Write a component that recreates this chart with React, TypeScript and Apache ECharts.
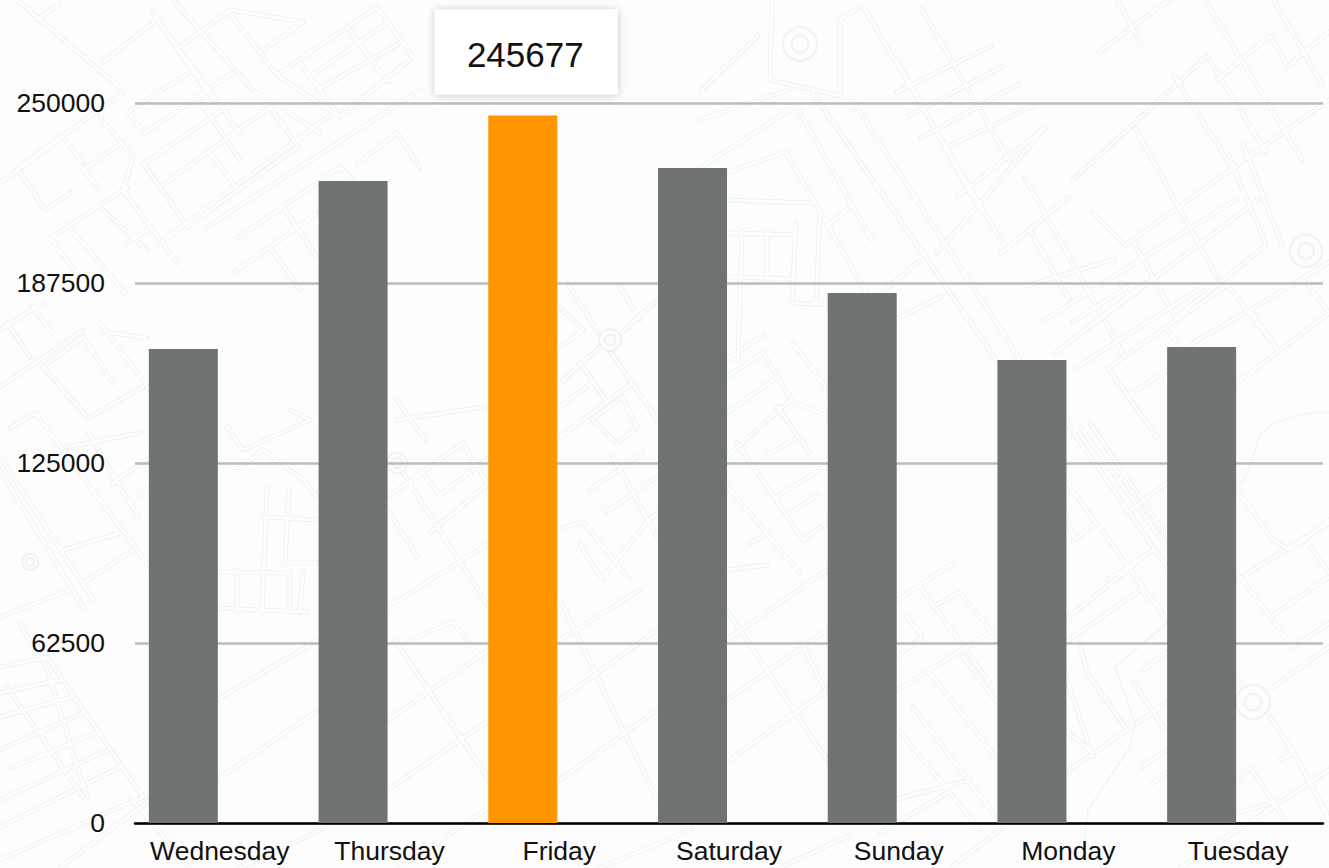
import React, { useEffect, useRef } from "react";
import * as echarts from "echarts";

const categories = ["Wednesday", "Thursday", "Friday", "Saturday", "Sunday", "Monday", "Tuesday"];
const dailyValues = [164600, 222900, 245677, 227400, 184000, 160800, 165300];
const highlighted = "Friday";
const yMax = 250000;
const yStep = 62500;

// Decorative street-map backdrop (not data)
const streets: number[][][] = [
  [[864,8],[1001,240]],[[921,8],[1009,160]],[[897,60],[981,213]],[[897,92],[991,46]],[[909,116],[1003,66]],[[921,138],[1019,84]],[[945,148],[1033,106]],[[957,197],[1045,128]],
  [[1099,52],[1169,0]],[[1117,0],[1141,44]],[[1073,180],[1207,56],[1266,152]],[[1173,74],[1237,176]],[[1217,80],[1270,36],[1288,66],[1329,32]],[[1205,0],[1302,160]],[[1274,0],[1322,84]],[[1243,144],[1282,245]],
  [[1093,213],[1125,245],[1329,100]],[[1133,241],[1177,321]],[[1135,128],[1217,277]],[[1229,156],[1266,245],[1177,317]],[[1001,253],[1069,197]],[[1023,287],[1115,259]],[[1029,229],[1069,299]],[[1025,178],[1125,357]],[[1043,321],[1237,199]],[[1055,353],[1258,200]],
  [[812,92],[997,361]],[[852,100],[1021,361]],[[772,0],[770,80],[840,96],[840,20],[860,6]],[[700,92],[758,36]],[[700,120],[788,90]],[[700,168],[796,106],[872,240]],[[716,176],[786,152],[872,303]],
  [[796,221],[792,303],[836,305]],[[728,200],[816,203]],[[728,233],[796,235]],[[728,277],[794,279]],[[742,231],[738,361]],[[767,231],[767,281]],[[820,210],[816,305]],[[828,225],[852,205]],[[872,301],[919,261]],[[937,253],[1045,128]],[[885,325],[941,297]],
  [[37,20],[60,3]],[[17,0],[120,88]],[[103,62],[157,20],[213,100]],[[153,13],[240,133]],[[173,0],[253,90],[320,133]],[[180,47],[230,10],[303,22],[260,53]],[[227,10],[277,75],[340,117]],[[277,75],[377,7]],[[298,60],[340,117]],[[347,27],[388,82]],[[377,7],[413,57],[340,117]],[[310,77],[388,22]],[[317,90],[402,42]],
  [[128,112],[190,72]],[[128,112],[145,133],[233,73]],[[145,163],[237,100]],[[160,187],[270,107],[298,147],[187,227]],[[143,163],[188,227]],[[208,150],[238,190]],[[197,97],[240,160]],[[358,163],[397,133],[420,167]],
  [[0,183],[63,137],[83,163]],[[17,168],[123,93]],[[17,168],[45,210],[70,193]],[[83,170],[123,142]],[[83,170],[98,187]],[[100,117],[133,157],[123,190],[177,263]],[[50,238],[127,188]],[[50,238],[87,287]],[[70,228],[125,293]],[[100,207],[147,250]],[[127,243],[152,227]],[[160,243],[333,113]],[[207,227],[420,90]],[[238,238],[340,167],[353,180]],[[235,272],[317,213]],[[283,207],[317,257]],[[270,247],[300,290]],
  [[0,330],[43,303]],[[7,323],[30,357]],[[33,307],[52,333]],[[0,387],[83,330]],[[43,367],[83,337],[113,383]],[[43,367],[88,418],[143,387]],[[100,323],[150,390]],[[107,332],[147,338]],[[10,428],[35,413],[150,567]],[[0,457],[93,600]],[[0,470],[85,610]],[[67,447],[140,433]],[[113,483],[150,457]],[[88,432],[138,517]],[[128,503],[150,487]],[[63,550],[120,533]],[[83,583],[133,550]],[[0,617],[70,590]],[[20,623],[40,660]],
  [[0,667],[47,657]],[[0,693],[60,680]],[[43,657],[87,797]],[[7,687],[83,797]],[[0,717],[72,697]],[[0,750],[83,713]],[[13,767],[97,733]],[[0,800],[108,750]],[[0,827],[120,767]],[[0,860],[143,797]],[[47,657],[143,797]],[[60,868],[150,800]],[[130,797],[190,868]],
  [[227,427],[243,450],[310,420],[290,410]],[[263,450],[303,480],[317,497]],[[240,468],[263,450]],[[267,488],[262,613]],[[289,490],[285,563],[317,563]],[[263,517],[317,520]],[[217,572],[290,573],[290,610]],[[217,608],[307,612]],[[237,570],[237,613]],[[303,573],[300,613]],
  [[397,400],[425,440]],[[388,497],[463,443]],[[423,473],[440,495],[490,457]],[[463,443],[487,483]],[[403,473],[463,567],[489,607]],[[388,510],[417,557]],[[430,533],[489,483]],[[388,607],[489,543]],[[410,640],[453,622],[483,660]],[[397,420],[483,407]],
  [[560,347],[583,330],[560,308]],[[567,283],[603,340],[657,420]],[[617,337],[657,300]],[[560,383],[600,347]],[[580,363],[607,402]],[[560,407],[593,382]],[[560,437],[632,383]],[[592,420],[622,397],[637,427],[617,443],[603,430],[592,420]],[[620,287],[640,320]],[[612,455],[657,537]],[[590,490],[642,453]],[[607,512],[657,477]],[[563,528],[583,522],[630,580]],[[580,545],[603,580]],[[603,577],[643,527],[657,513]],
  [[727,360],[763,335]],[[727,413],[777,377]],[[727,377],[763,353],[790,397]],[[727,457],[790,400],[830,417]],[[777,407],[810,453]],[[768,455],[797,437]],[[793,343],[830,393]],[[737,443],[803,540],[830,520]],[[775,498],[830,463]],[[787,515],[817,495]],[[728,487],[800,573]],[[750,543],[768,533]],[[727,570],[767,565]],
  [[1073,322],[1127,287]],[[1082,332],[1145,283]],[[1120,283],[1130,297]],[[1077,367],[1203,287]],[[1108,368],[1227,285],[1278,350]],[[1108,368],[1157,437]],[[1127,397],[1167,370]],[[1167,330],[1180,347]],[[1193,343],[1267,300],[1329,262]],[[1237,383],[1329,313]],[[1250,310],[1278,350]],[[1307,283],[1329,313]],
  [[1065,420],[1167,567]],[[1080,427],[1167,547]],[[1090,423],[1167,537]],[[1065,513],[1075,540],[1095,523]],[[1065,480],[1167,620]],[[1127,513],[1167,483]],[[1115,490],[1123,473]],[[1237,490],[1273,540],[1290,550],[1329,520]],[[1303,537],[1329,573]],[[1237,580],[1329,523]],[[1107,580],[1153,550]],
  [[1237,573],[1293,647],[1329,623]],[[1270,617],[1329,577]],[[1273,687],[1329,647]],[[1270,717],[1300,763],[1329,820]],[[1237,677],[1253,702]],[[1280,760],[1293,753],[1327,813]],[[1240,780],[1250,767],[1283,817]],[[1237,813],[1273,803]],[[1065,643],[1140,590]],[[1065,620],[1140,560]],[[1140,587],[1148,602]],[[1065,773],[1166,703]],[[1080,643],[1087,673],[1127,730]],[[1065,673],[1093,757]],[[1065,730],[1093,753]],[[1133,682],[1163,727]],[[1142,767],[1166,750]],[[1153,783],[1166,773]],[[1143,670],[1166,653]],
  [[893,603],[953,563]],[[920,587],[990,683]],[[933,607],[960,592],[998,640]],[[907,617],[922,637],[893,660]],[[893,693],[998,627]],[[930,673],[998,760]],[[963,657],[998,703]],[[893,800],[970,780]],[[893,723],[980,830]],[[913,707],[998,820]],[[880,833],[947,793]],[[950,868],[1000,830]],
  [[217,700],[318,640]],[[217,780],[318,710]],[[395,640],[489,780]],[[388,720],[489,650]],[[388,790],[489,720]],[[560,640],[640,590]],[[560,700],[657,630]],[[560,600],[657,800]],[[727,640],[827,570]],[[727,700],[827,630]],[[730,760],[827,690]],[[800,640],[825,690]],[[560,780],[657,710]],[[727,610],[827,760]],[[400,868],[500,800]],[[600,868],[690,830]],[[780,868],[850,835]],[[240,868],[320,830]],[[1180,868],[1329,770]],
];
const shoreline: number[][] = [[1329,413],[1310,413],[1273,423],[1260,435],[1252,460],[1243,482],[1237,485]];
const shoreline2: number[][] = [[1167,623],[1115,667],[1135,723],[1130,747],[1088,810],[1083,849]];
const roundabouts: number[][] = [[800,44,17],[1306,251,16],[1253,702,17],[610,340,11],[397,463,10],[30,562,8]];

const BG = "#fdfdfd";
const ROAD = "#f0f3f2";

function backdrop() {
  const els: any[] = [];
  const line = (pts: number[][], stroke: string, lineWidth: number, z: number) => ({
    type: "polyline", silent: true, z, shape: { points: pts },
    style: { stroke, lineWidth, fill: "none", lineCap: "round", lineJoin: "round" },
  });
  streets.forEach((p) => els.push(line(p, ROAD, 5, -3)));
  streets.forEach((p) => els.push(line(p, BG, 3, -2)));
  roundabouts.forEach(([x, y, r]) => {
    els.push({ type: "circle", silent: true, z: -1, shape: { cx: x, cy: y, r }, style: { stroke: ROAD, lineWidth: 2, fill: BG } });
    els.push({ type: "circle", silent: true, z: -1, shape: { cx: x, cy: y, r: r * 0.5 }, style: { stroke: ROAD, lineWidth: 2, fill: BG } });
  });
  els.push(line(shoreline, ROAD, 1.2, -1));
  els.push(line(shoreline2, ROAD, 1.2, -1));
  return els;
}

export default function App() {
  const ref = useRef<HTMLDivElement>(null);
  useEffect(() => {
    document.body.style.margin = "0";
    const chart = echarts.init(ref.current!, undefined, { renderer: "svg" });
    const font = "'Liberation Sans', Arial, sans-serif";
    chart.setOption({
      animation: false,
      backgroundColor: BG,
      graphic: { elements: backdrop() },
      grid: { left: 135, right: 6, top: 103, bottom: 45, containLabel: false },
      xAxis: {
        type: "category",
        data: categories,
        axisLine: { lineStyle: { color: "#000", width: 2.5 } },
        axisTick: { show: false },
        axisLabel: { color: "#111", fontSize: 26.5, fontFamily: font, margin: 14, interval: 0 },
      },
      yAxis: {
        type: "value",
        min: 0,
        max: yMax,
        interval: yStep,
        axisLine: { show: false },
        axisTick: { show: false },
        axisLabel: { color: "#111", fontSize: 26.5, fontFamily: font, margin: 30, formatter: (v: number) => String(v) },
        splitLine: { lineStyle: { color: "#bbbbbb", width: 2.5 } },
      },
      series: [
        {
          type: "bar",
          name: "Visits",
          barWidth: 69,
          barGap: "5.8%",
          itemStyle: { color: "#6f7472" },
          data: categories.map((c, i) =>
            c === highlighted
              ? {
                  value: dailyValues[i],
                  itemStyle: { color: "#ff9600" },
                  label: {
                    show: true,
                    position: "top",
                    distance: 21,
                    offset: [3.5, 0],
                    color: "#111",
                    fontSize: 35,
                    fontFamily: font,
                    backgroundColor: "#ffffff",
                    padding: [28, 34, 22, 32],
                    formatter: (p: any) => String(p.value),
                    shadowColor: "rgba(0,0,0,0.22)",
                    shadowBlur: 9,
                    shadowOffsetX: 0,
                    shadowOffsetY: 1,
                  },
                }
              : dailyValues[i]
          ),
        },
        { type: "bar", name: "Empty", barWidth: 69, data: [] },
      ],
    });
    return () => chart.dispose();
  }, []);
  return <div ref={ref} style={{ width: 1329, height: 868, position: "absolute", left: 0, top: 0 }} />;
}
